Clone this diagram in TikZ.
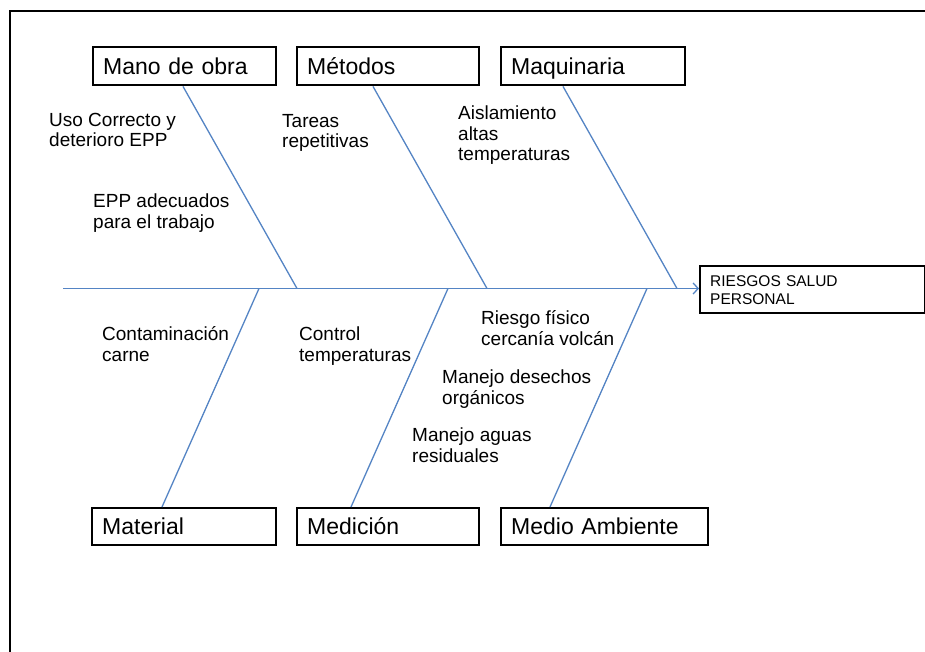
\documentclass[tikz,border=0pt]{standalone}
\usepackage{fontspec}
\setmainfont{Liberation Sans}
\usetikzlibrary{arrows.meta}
\definecolor{bonecol}{RGB}{84,132,196}
\begin{document}
\begin{tikzpicture}[x=1bp,y=-1bp,
  catbox/.style={draw=black, line width=2.4bp, anchor=north west, inner xsep=10bp, inner ysep=0bp,
    align=left, font=\fontsize{23bp}{26bp}\selectfont, text height=16.5bp, text depth=0bp},
  effbox/.style={draw=black, line width=2.4bp, anchor=north west, inner xsep=10bp, inner ysep=0bp,
    align=left, font=\fontsize{15.5bp}{18bp}\selectfont},
  cause/.style={anchor=base west, inner sep=0pt, align=left, font=\fontsize{19bp}{20.8bp}\selectfont},
  bone/.style={draw=bonecol, line width=1.3bp},
  spine/.style={draw=bonecol, line width=1.3bp, -{Straight Barb[length=5bp,width=11bp]}},
  frame/.style={draw=black, line width=2.4bp}
]
\useasboundingbox (0,0) rectangle (925,652);
\fill[white] (0,0) rectangle (925,652);
\draw[frame] (10,11) rectangle (940,670);

% category boxes
\node[catbox, text width=163bp, minimum height=38bp] (mano) at (92,46) {Mano de obra};
\node[catbox, text width=162bp, minimum height=38bp] (metodos) at (296,46) {Métodos};
\node[catbox, text width=164bp, minimum height=38bp] (maq) at (500,46) {Maquinaria};
\node[catbox, text width=164bp, minimum height=37bp] (material) at (91,507) {Material};
\node[catbox, text width=162bp, minimum height=37bp] (medicion) at (296,507) {Medición};
\node[catbox, text width=187bp, minimum height=37bp] (medio) at (500,507) {Medio Ambiente};

% effect box
\node[effbox, text width=205bp, minimum height=47bp] (efecto) at (699,265) {RIESGOS SALUD\\PERSONAL};

% spine
\coordinate (sp0) at (63,288.5);
\draw[spine] (sp0) -- (sp0 -| efecto.west);

% bone end points
\coordinate (t1) at ([xshift=91bp]mano.south west);
\coordinate (t2) at ([xshift=77bp]metodos.south west);
\coordinate (t3) at ([xshift=63bp]maq.south west);
\coordinate (b4) at ([xshift=71bp]material.north west);
\coordinate (b5) at ([xshift=55bp]medicion.north west);
\coordinate (b6) at ([xshift=50bp]medio.north west);
\coordinate (s1) at (297,288.5);
\coordinate (s2) at (487,288.5);
\coordinate (s3) at (677,288.5);
\coordinate (s4) at (259,288.5);
\coordinate (s5) at (448,288.5);
\coordinate (s6) at (647,288.5);

\draw[bone] (t1) -- (s1);
\draw[bone] (t2) -- (s2);
\draw[bone] (t3) -- (s3);
\draw[bone] (s4) -- (b4);
\draw[bone] (s5) -- (b5);
\draw[bone] (s6) -- (b6);

% causes (anchored at the baseline of the last line)
\node[cause] (c1) at (49,147) {Uso Correcto y\\deterioro EPP};
\node[cause] (c2) at (93,228) {EPP adecuados\\para el trabajo};
\node[cause] (c3) at (282,148) {Tareas\\repetitivas};
\node[cause] (c4) at (458,161) {Aislamiento\\altas\\temperaturas};
\node[cause] (c5) at (102,361) {Contaminación\\carne};
\node[cause] (c6) at (299,361) {Control\\temperaturas};
\node[cause] (c7) at (481,345) {Riesgo físico\\cercanía volcán};
\node[cause] (c8) at (442,404) {Manejo desechos\\orgánicos};
\node[cause] (c9) at (412,462) {Manejo aguas\\residuales};
\end{tikzpicture}
\end{document}
